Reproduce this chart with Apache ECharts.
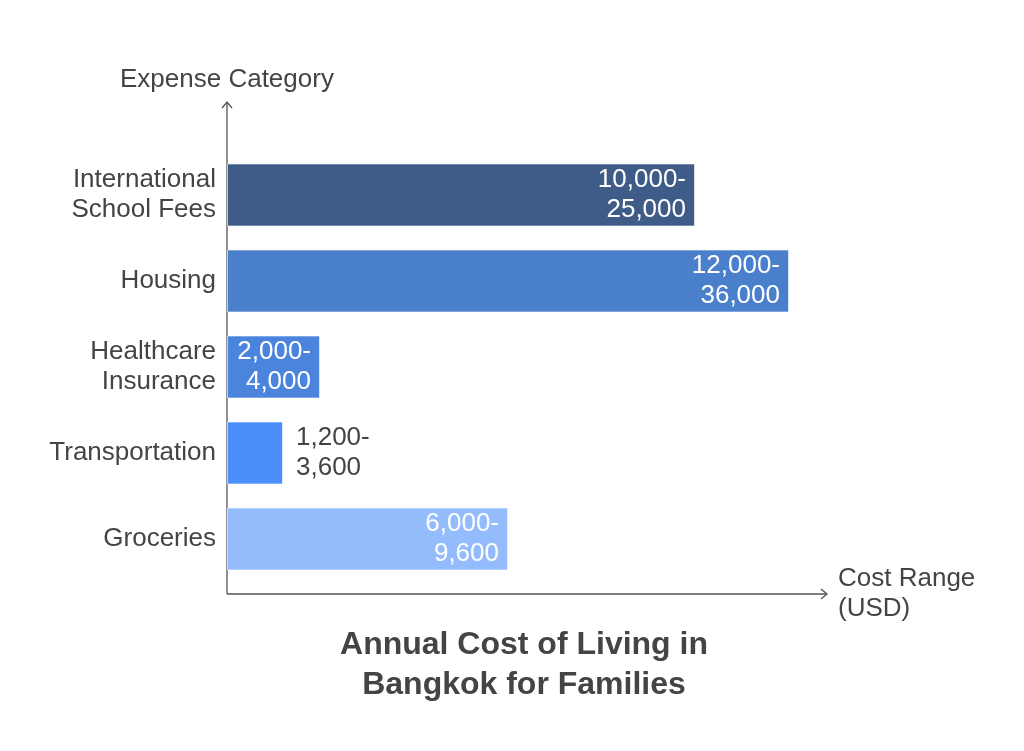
<!DOCTYPE html>
<html>
<head>
<meta charset="utf-8">
<script src="https://cdn.jsdelivr.net/npm/echarts@6/dist/echarts.min.js"></script>
<style>
  html, body { margin: 0; padding: 0; background: #fff; }
  #echarts { width: 1024px; height: 751px; }
</style>
</head>
<body>
<div id="echarts"></div>
<script>
// categories, top to bottom as in the picture
var categories = ['International\nSchool Fees', 'Housing', 'Healthcare\nInsurance', 'Transportation', 'Groceries'];
// bar lengths as drawn (relative units, no scale printed)
var barLengths = [468, 562, 93, 56, 281];
// range labels
var rangeLabels = ['10,000-\n25,000', '12,000-\n36,000', '2,000-\n4,000', '1,200-\n3,600', '6,000-\n9,600'];
var barColors = ['#3f5b87', '#4a7fcc', '#4a84dc', '#4a8ffc', '#94bcfd'];
var insideLabel = [true, true, true, false, true];

window.onload = function () {
    var font = '"Liberation Sans", Arial, sans-serif';
    var data = barLengths.map(function (v, i) {
        return {
            value: v,
            itemStyle: { color: barColors[i] },
            label: insideLabel[i] ? {
                position: 'insideRight', color: '#fff', align: 'right', distance: 9
            } : {
                position: 'right', color: '#444', align: 'left', distance: 13
            }
        };
    });

    var option = {
        animation: false,
        textStyle: { fontFamily: font },
        title: {
            text: 'Annual Cost of Living in\nBangkok for Families',
            left: 519, top: 620, textAlign: 'center',
            textStyle: { fontSize: 32, fontWeight: 'bold', color: '#444', lineHeight: 40, fontFamily: font }
        },
        grid: { left: 227, top: 152, height: 430, width: 601, containLabel: false },
        xAxis: {
            type: 'value', min: 0, max: 601,
            axisLine: { show: false }, axisTick: { show: false },
            axisLabel: { show: false }, splitLine: { show: false }
        },
        yAxis: {
            type: 'category', inverse: true, data: categories,
            axisLine: { show: false }, axisTick: { show: false },
            axisLabel: { fontSize: 26, color: '#444', lineHeight: 30, margin: 11, padding: [4, 0, 0, 0], fontFamily: font }
        },
        series: [{
            type: 'bar',
            data: data,
            barWidth: 63,
            itemStyle: { borderColor: 'rgba(255,255,255,0.6)', borderWidth: 1 },
            label: {
                show: true, fontSize: 26, lineHeight: 30, fontFamily: font, padding: [4, 0, 0, 0],
                formatter: function (p) { return rangeLabels[p.dataIndex]; }
            }
        }],
        graphic: [
            // axis lines with arrow heads
            { type: 'polyline', shape: { points: [[227, 594], [227, 102]] }, style: { stroke: '#555', lineWidth: 1.3, fill: null } },
            { type: 'polyline', shape: { points: [[222, 108], [227, 102], [232, 108]] }, style: { stroke: '#555', lineWidth: 1.3, fill: null } },
            { type: 'polyline', shape: { points: [[227, 594], [827, 594]] }, style: { stroke: '#555', lineWidth: 1.3, fill: null } },
            { type: 'polyline', shape: { points: [[821, 589], [827, 594], [821, 599]] }, style: { stroke: '#555', lineWidth: 1.3, fill: null } },
            { type: 'text', left: 120, top: 65, style: { text: 'Expense Category', fill: '#444', lineHeight: 30, font: '26px ' + font } },
            { type: 'text', left: 838, top: 564, style: { text: 'Cost Range\n(USD)', fill: '#444', lineHeight: 30, font: '26px ' + font } }
        ]
    };

    var mychart = echarts.init(document.getElementById('echarts'));
    mychart.setOption(option);
};
</script>
</body>
</html>
